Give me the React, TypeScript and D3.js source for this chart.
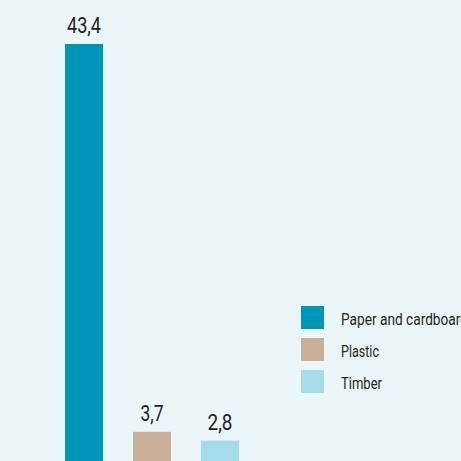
import React from "react";
import * as d3 from "d3";

const categories = ["Paper and cardboard", "Plastic", "Timber"];
const values = [43.4, 3.7, 2.8];
const valueLabels = ["43,4", "3,7", "2,8"];
const colors = ["#0096ba", "#c9af95", "#a3dce8"];
const labelWidths = [34, 23, 25];
const legendWidths = [127, 38, 41];

const W = 461;
const H = 461;

export default function App() {
  const x = d3
    .scaleBand<string>()
    .domain(categories)
    .range([50, 254])
    .paddingInner(30 / 68)
    .paddingOuter(15 / 68);
  const y = d3.scaleLinear().domain([0, 43.4]).range([468, 44]);
  const font = "Roboto, 'DejaVu Sans Condensed', sans-serif";
  return (
    <svg
      width={W}
      height={H}
      style={{ position: "absolute", left: 0, top: 0, display: "block" }}
    >
      <rect x={0} y={0} width={W} height={H} fill="#ebf6f8" />
      {categories.map((c, i) => (
        <g key={c}>
          <rect
            x={x(c)}
            y={y(values[i])}
            width={x.bandwidth()}
            height={y(0) - y(values[i])}
            fill={colors[i]}
          />
          <text
            x={(x(c) as number) + x.bandwidth() / 2 - labelWidths[i] / 2}
            y={y(values[i]) - 11}
            fontFamily={font}
            fontSize={22}
            fill="#231f20"
            textLength={labelWidths[i]}
            lengthAdjust="spacingAndGlyphs"
          >
            {valueLabels[i]}
          </text>
        </g>
      ))}
      {categories.map((c, i) => (
        <g key={"lg" + c} transform={`translate(301, ${306 + i * 32})`}>
          <rect x={0} y={0} width={23} height={23} fill={colors[i]} />
          <text
            x={40}
            y={19}
            fontFamily={font}
            fontSize={16.5}
            fill="#231f20"
            textLength={legendWidths[i]}
            lengthAdjust="spacingAndGlyphs"
          >
            {c}
          </text>
        </g>
      ))}
    </svg>
  );
}
